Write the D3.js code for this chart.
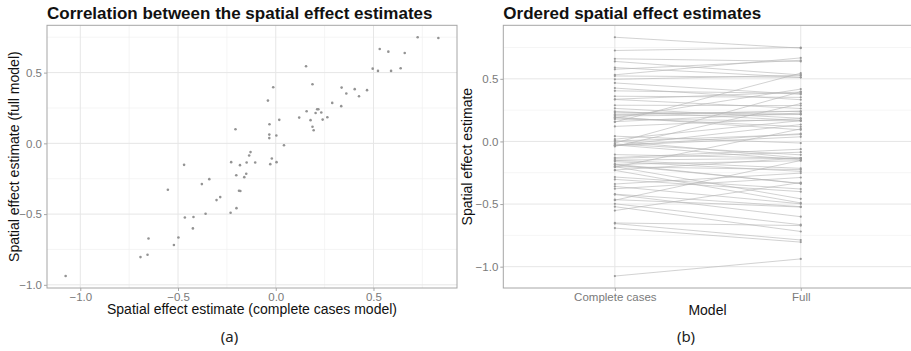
<!DOCTYPE html>
<html>
<head>
<meta charset="utf-8">
<script src="https://cdn.jsdelivr.net/npm/d3@7"></script>
<style>
body { margin: 0; background: white; }
text { font-family: "Liberation Sans", Arial, sans-serif; }
</style>
</head>
<body>
<script>
const largeur = 911;
const hauteur = 351;

// une valeur par région, dans le même ordre pour les deux modèles
const casComplets = [
    -1.075, -0.692, -0.656, -0.651, -0.521, -0.498, -0.552, -0.465, -0.421, -0.424,
    -0.359, -0.469, -0.378, -0.340, -0.303, -0.284, -0.231, -0.201, -0.188, -0.181,
    -0.161, -0.151, -0.202, -0.228, -0.183, -0.149, -0.105, -0.136, -0.129, -0.206,
    -0.040, -0.032, 0.018, -0.033, -0.033, 0.003, 0.042, 0.120, 0.158, 0.178,
    0.204, 0.212, 0.218, 0.233, 0.240, 0.264, 0.289, 0.188, 0.194, -0.020,
    -0.028, 0.004, 0.726, 0.832, 0.532, 0.576, 0.660, 0.496, 0.523, 0.590,
    0.639, 0.155, 0.188, 0.337, 0.404, 0.467, 0.361, 0.426, 0.335, -0.013
];

const modeleComplet = [
    -0.938, -0.804, -0.787, -0.672, -0.719, -0.665, -0.328, -0.524, -0.521, -0.601,
    -0.498, -0.152, -0.288, -0.253, -0.401, -0.380, -0.491, -0.458, -0.335, -0.337,
    -0.239, -0.215, -0.225, -0.133, -0.154, -0.135, -0.135, -0.086, -0.062, 0.100,
    0.302, 0.135, 0.166, 0.062, 0.037, 0.055, -0.013, 0.182, 0.227, 0.164,
    0.215, 0.241, 0.241, 0.218, 0.168, 0.185, 0.286, 0.117, 0.093, -0.107,
    -0.147, -0.133, 0.750, 0.745, 0.667, 0.648, 0.639, 0.528, 0.512, 0.512,
    0.531, 0.545, 0.418, 0.394, 0.383, 0.376, 0.352, 0.333, 0.263, 0.397
];

const modeles = ["Complete cases", "Full"];
const graduations = [-1, -0.5, 0, 0.5];
const graduationsMineures = [-0.75, -0.25, 0.25, 0.75];

const svg = d3
.select("body")
.append("svg")
.attr("width", largeur)
.attr("height", hauteur)
.style("background", "white");

const haut = 25.3;
const bas = 288;

// marge de 5 % comme ggplot
function etendre(valeurs)
{
    const bornes = d3.extent(valeurs);
    const m = (bornes[1] - bornes[0]) * 0.05;
    return [bornes[0] - m, bornes[1] + m];
}

const format = d3.format(".1f");

// ---------- (a) nuage de points ----------
const xA = d3.scaleLinear().domain(etendre(casComplets)).range([47, 457]);
const yA = d3.scaleLinear().domain(etendre(modeleComplet)).range([bas, haut]);

// ---------- (b) estimations ordonnées ----------
const xB = d3.scalePoint().domain(modeles).range([503.3, 912.3]).padding(0.6);
const yB = d3.scaleLinear().domain(etendre(casComplets.concat(modeleComplet))).range([bas, haut]);

function grille(g, x0, x1, y, xMajeures, xMineures, xs)
{
    g.selectAll("line.ymin")
    .data(graduationsMineures.filter(function(d) { return y(d) > haut && y(d) < bas; }))
    .enter()
    .append("line")
    .attr("x1", x0).attr("x2", x1)
    .attr("y1", function(d) { return y(d); })
    .attr("y2", function(d) { return y(d); })
    .attr("stroke", "#f0f0f0")
    .attr("stroke-width", 0.7);

    g.selectAll("line.xmin")
    .data(xMineures)
    .enter()
    .append("line")
    .attr("x1", function(d) { return xs(d); })
    .attr("x2", function(d) { return xs(d); })
    .attr("y1", haut).attr("y2", bas)
    .attr("stroke", "#f0f0f0")
    .attr("stroke-width", 0.7);

    g.selectAll("line.ymaj")
    .data(graduations)
    .enter()
    .append("line")
    .attr("x1", x0).attr("x2", x1)
    .attr("y1", function(d) { return y(d); })
    .attr("y2", function(d) { return y(d); })
    .attr("stroke", "#e6e6e6")
    .attr("stroke-width", 1);

    g.selectAll("line.xmaj")
    .data(xMajeures)
    .enter()
    .append("line")
    .attr("x1", function(d) { return xs(d); })
    .attr("x2", function(d) { return xs(d); })
    .attr("y1", haut).attr("y2", bas)
    .attr("stroke", "#e6e6e6")
    .attr("stroke-width", 1);

    g.append("rect")
    .attr("x", x0).attr("y", haut)
    .attr("width", x1 - x0).attr("height", bas - haut)
    .attr("fill", "none")
    .attr("stroke", "#a6a6a6")
    .attr("stroke-width", 1);
}

function styliserAxe(g)
{
    g.select(".domain").remove();
    g.selectAll(".tick line").attr("stroke", "#a6a6a6");
    g.selectAll(".tick text")
    .attr("fill", "#7a7a7a")
    .style("font-size", "11.5px")
    .style("font-family", "'Liberation Sans', Arial, sans-serif");
}

const panneauA = svg.append("g");
grille(panneauA, 47, 457, yA, graduations, graduationsMineures.filter(function(d) { return xA(d) > 47 && xA(d) < 457; }), xA);

panneauA
.append("g")
.attr("transform", "translate(47,0)")
.call(d3.axisLeft(yA).tickValues(graduations).tickFormat(format).tickSize(3).tickPadding(2))
.call(styliserAxe);

panneauA
.append("g")
.attr("transform", "translate(0," + bas + ")")
.call(d3.axisBottom(xA).tickValues(graduations).tickFormat(format).tickSize(3).tickPadding(1.5))
.call(styliserAxe);

panneauA
.selectAll("circle")
.data(casComplets)
.enter()
.append("circle")
.attr("cx", function(d) { return xA(d); })
.attr("cy", function(d, i) { return yA(modeleComplet[i]); })
.attr("r", 1.3)
.attr("fill", "#939393");

const panneauB = svg.append("g");
grille(panneauB, 503.3, 912.3, yB, modeles, [], xB);

panneauB
.append("g")
.attr("transform", "translate(503.3,0)")
.call(d3.axisLeft(yB).tickValues(graduations).tickFormat(format).tickSize(3).tickPadding(2))
.call(styliserAxe);

panneauB
.append("g")
.attr("transform", "translate(0," + bas + ")")
.call(d3.axisBottom(xB).tickSize(3).tickPadding(1.5))
.call(styliserAxe);

panneauB
.selectAll("line.lien")
.data(casComplets)
.enter()
.append("line")
.attr("class", "lien")
.attr("x1", xB("Complete cases"))
.attr("x2", xB("Full"))
.attr("y1", function(d) { return yB(d); })
.attr("y2", function(d, i) { return yB(modeleComplet[i]); })
.attr("stroke", "#b3b3b3")
.attr("stroke-width", 0.6);

panneauB
.selectAll("circle.cc")
.data(casComplets)
.enter()
.append("circle")
.attr("class", "cc")
.attr("cx", xB("Complete cases"))
.attr("cy", function(d) { return yB(d); })
.attr("r", 1.1)
.attr("fill", "#999");

panneauB
.selectAll("circle.full")
.data(modeleComplet)
.enter()
.append("circle")
.attr("class", "full")
.attr("cx", xB("Full"))
.attr("cy", function(d) { return yB(d); })
.attr("r", 1.1)
.attr("fill", "#999");

// ---------- titres ----------
svg.append("text")
.attr("x", 47).attr("y", 19)
.attr("font-weight", "bold").attr("font-size", 17).attr("fill", "#111")
.text("Correlation between the spatial effect estimates");

svg.append("text")
.attr("x", 503.3).attr("y", 19)
.attr("font-weight", "bold").attr("font-size", 17).attr("fill", "#111")
.text("Ordered spatial effect estimates");

svg.append("text")
.attr("x", 252).attr("y", 314)
.attr("text-anchor", "middle").attr("font-size", 14).attr("fill", "#111")
.text("Spatial effect estimate (complete cases model)");

svg.append("text")
.attr("transform", "translate(19," + ((haut + bas) / 2) + ") rotate(-90)")
.attr("text-anchor", "middle").attr("font-size", 14).attr("fill", "#111")
.text("Spatial effect estimate (full model)");

svg.append("text")
.attr("x", 707.5).attr("y", 315)
.attr("text-anchor", "middle").attr("font-size", 14).attr("fill", "#111")
.text("Model");

svg.append("text")
.attr("transform", "translate(472," + ((haut + bas) / 2) + ") rotate(-90)")
.attr("text-anchor", "middle").attr("font-size", 14).attr("fill", "#111")
.text("Spatial effect estimate");

// légendes des sous-figures
svg.append("text")
.attr("x", 229.5).attr("y", 342)
.attr("text-anchor", "middle").attr("font-size", 15).attr("fill", "#222")
.style("font-family", "'Noto Sans', sans-serif")
.style("font-style", "normal")
.text("(a)");

svg.append("text")
.attr("x", 686).attr("y", 342)
.attr("text-anchor", "middle").attr("font-size", 15).attr("fill", "#222")
.style("font-family", "'Noto Sans', sans-serif")
.style("font-style", "normal")
.text("(b)");
</script>
</body>
</html>
